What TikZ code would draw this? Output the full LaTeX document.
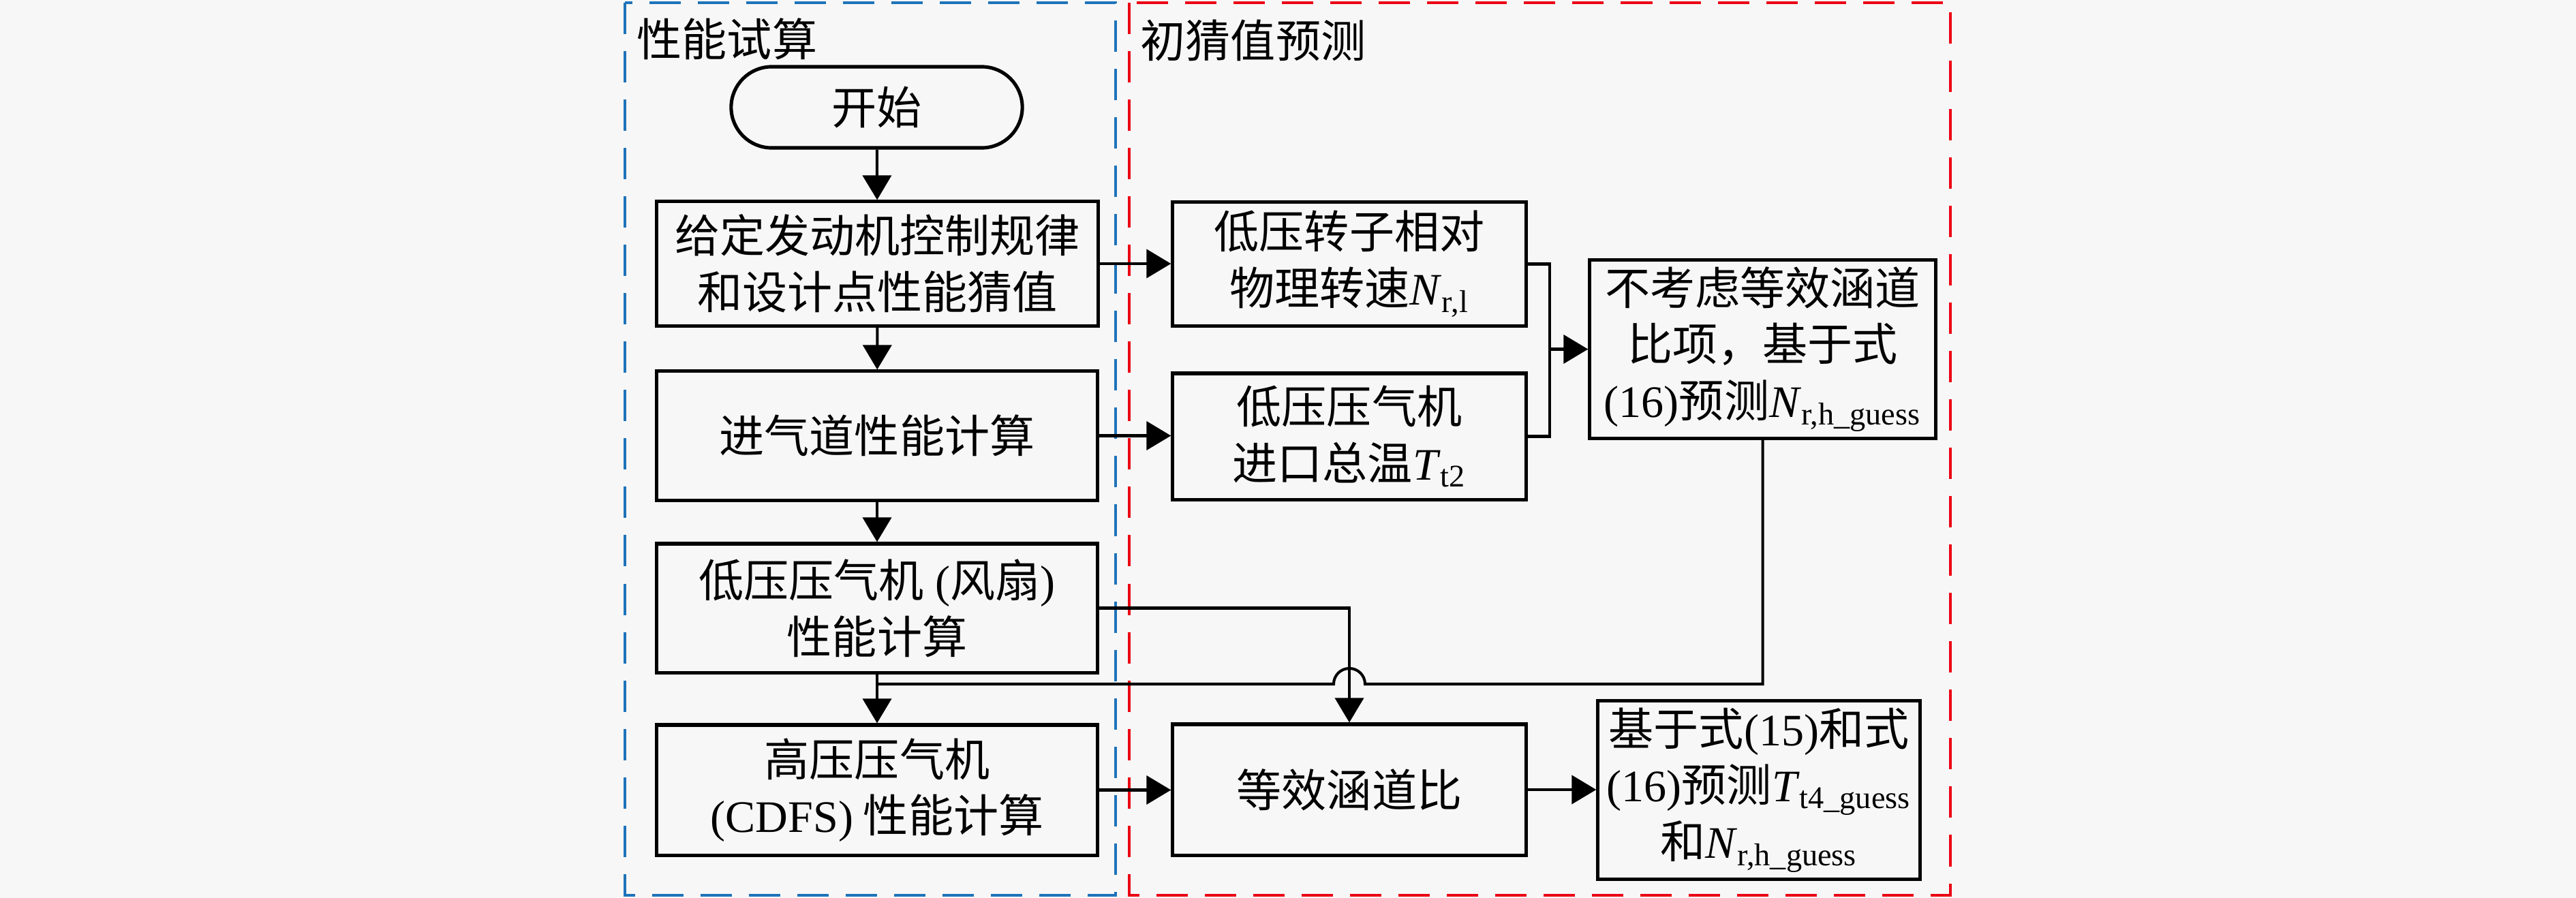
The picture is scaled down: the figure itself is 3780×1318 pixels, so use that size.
\documentclass[tikz,border=0pt]{standalone}
\usepackage{fontspec}
\setmainfont{Liberation Serif}
\newfontfamily\cjk{Noto Sans CJK SC}
\newfontfamily\lat{Liberation Serif}
\usetikzlibrary{arrows.meta}
\definecolor{bgc}{RGB}{247,247,247}
\definecolor{fblue}{RGB}{30,115,185}
\definecolor{fred}{RGB}{235,0,20}
\newcommand\vN[1]{{\lat\textit{N}\textsubscript{#1}}}
\newcommand\vT[1]{{\lat\textit{T}\textsubscript{#1}}}
\newcommand\la[1]{{\lat #1}}
\begin{document}
\begin{tikzpicture}[x=0.01cm,y=-0.01cm,
  txt/.style={font=\cjk\fontsize{18.8}{23.5}\selectfont},
  box/.style={draw=black,line width=1.45pt,fill=bgc,align=center,inner sep=2pt,txt},
  conn/.style={line width=1.15pt},
  arr/.style={conn,-{Triangle[length=0.36cm,width=0.42cm]}},
  frame/.style={line width=1.4pt,dash pattern=on 0.46cm off 0.25cm},
]
\fill[bgc] (0,0) rectangle (3780,1318);
\useasboundingbox (0,0) rectangle (3780,1318);

% frames
\draw[frame,fblue] (917,4) rectangle (1637,1314);
\draw[frame,fred] (1657,4) rectangle (2862,1314);
\node[txt,anchor=west,inner sep=0pt] (t1) at (934,57) {性能试算};
\node[txt,anchor=west,inner sep=0pt] (t2) at (1673,59) {初猜值预测};

% left column
\node[box,rounded corners=0.595cm,minimum width=4.27cm,minimum height=1.19cm] (start) at (1286.5,157.5) {开始};
\node[box,minimum width=6.47cm,minimum height=1.82cm] (b1) at (1287.5,387) {给定发动机控制规律\\和设计点性能猜值};
\node[box,minimum width=6.46cm,minimum height=1.89cm] (b2) at (1287,639.5) {进气道性能计算};
\node[box,minimum width=6.46cm,minimum height=1.89cm] (b3) at (1287,892.5) {低压压气机\la{ (}风扇\la{)}\\性能计算};
\node[box,minimum width=6.46cm,minimum height=1.91cm] (b4) at (1287,1159.5) {高压压气机\\\la{(CDFS)} 性能计算};

% right part
\node[box,minimum width=5.18cm,minimum height=1.81cm] (A) at (1980,387.5) {低压转子相对\\物理转速\vN{r,l}};
\node[box,minimum width=5.18cm,minimum height=1.85cm] (B) at (1980,640.5) {低压压气机\\进口总温\vT{t2}};
\node[box,minimum width=5.07cm,minimum height=2.61cm] (C) at (2586.5,512.5) {不考虑等效涵道\\比项，基于式\\\la{(16)}预测\vN{r,h\_guess}};
\node[box,minimum width=5.18cm,minimum height=1.92cm] (D) at (1980,1159) {等效涵道比};
\node[box,minimum width=4.72cm,minimum height=2.61cm,inner sep=0pt] (E) at (2581,1159.5) {基于式\la{(15)}和式\\\la{(16)}预测\vT{t4\_guess}\\和\vN{r,h\_guess}};

% connectors
\draw[arr] (start) -- (b1);
\draw[arr] (b1) -- (b2);
\draw[arr] (b2) -- (b3);
\draw[arr] (b3) -- (b4);
\draw[arr] (b1.east) -- (b1.east -| A.west);
\draw[arr] (b2.east) -- (b2.east -| B.west);
\coordinate (J) at (2274,512.5);
\draw[conn] (A.east) -| (J);
\draw[conn] (B.east) -| (J);
\draw[arr] (J) -- (J -| C.west);
\draw[arr] (b3.east) -| (D.north);
\coordinate (X) at (1980,1004);
\coordinate (M) at (1287,1004);
\draw[conn] (C.south) |- ([xshift=0.23cm]X) arc[start angle=0,end angle=180,radius=0.23cm] -- (M);
\draw[arr] (b4.east) -- (b4.east -| D.west);
\draw[arr] (D.east) -- (D.east -| E.west);
\end{tikzpicture}
\end{document}
